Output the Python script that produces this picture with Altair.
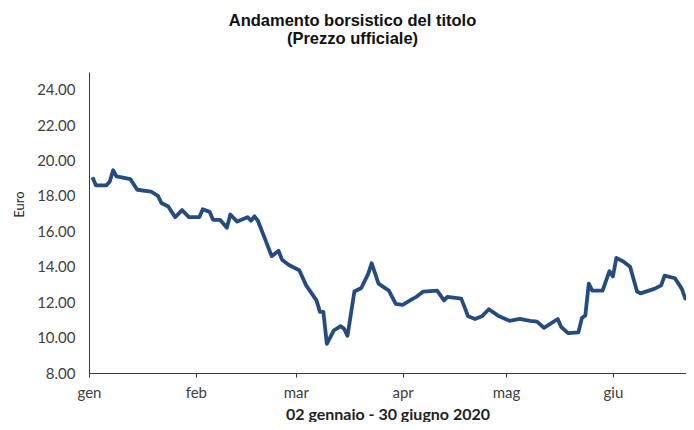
import altair as alt
import pandas as pd

# Reading of the official price (Euro), 2 Jan - late Jun 2020
dates = [
    "2020-01-02", "2020-01-03", "2020-01-06", "2020-01-07", "2020-01-08", "2020-01-09",
    "2020-01-13", "2020-01-15", "2020-01-19", "2020-01-21", "2020-01-22", "2020-01-24",
    "2020-01-26", "2020-01-28", "2020-01-30",
    "2020-02-02", "2020-02-03", "2020-02-05", "2020-02-06", "2020-02-08", "2020-02-10",
    "2020-02-11", "2020-02-13", "2020-02-16", "2020-02-17", "2020-02-18", "2020-02-19",
    "2020-02-21", "2020-02-23", "2020-02-25", "2020-02-26", "2020-02-28",
    "2020-03-02", "2020-03-04", "2020-03-07", "2020-03-08", "2020-03-09", "2020-03-10",
    "2020-03-12", "2020-03-14", "2020-03-15", "2020-03-16", "2020-03-18", "2020-03-20",
    "2020-03-22", "2020-03-23", "2020-03-25", "2020-03-28", "2020-03-30",
    "2020-04-01", "2020-04-04", "2020-04-05", "2020-04-07", "2020-04-11", "2020-04-13",
    "2020-04-14", "2020-04-18", "2020-04-20", "2020-04-22", "2020-04-24", "2020-04-26",
    "2020-04-29",
    "2020-05-02", "2020-05-05", "2020-05-08", "2020-05-10", "2020-05-12", "2020-05-16",
    "2020-05-17", "2020-05-19", "2020-05-22", "2020-05-23", "2020-05-24", "2020-05-25",
    "2020-05-26", "2020-05-29", "2020-05-31",
    "2020-06-01", "2020-06-02", "2020-06-04", "2020-06-06", "2020-06-08", "2020-06-09",
    "2020-06-13", "2020-06-15", "2020-06-16", "2020-06-19", "2020-06-21", "2020-06-22",
    "2020-06-24", "2020-06-26",
]
prices = [
    19.05, 18.60, 18.60, 18.80, 19.45, 19.10,
    18.95, 18.35, 18.25, 18.00, 17.60, 17.40,
    16.80, 17.20, 16.80,
    16.80, 17.25, 17.10, 16.65, 16.65, 16.20,
    16.95, 16.55, 16.80, 16.60, 16.85, 16.60,
    15.60, 14.60, 14.90, 14.40, 14.10,
    13.80, 12.95, 12.10, 11.45, 11.45, 9.65,
    10.40, 10.65, 10.50, 10.10, 12.60, 12.80,
    13.60, 14.20, 13.05, 12.65, 11.90,
    11.85, 12.20, 12.30, 12.60, 12.65, 12.10,
    12.30, 12.20, 11.20, 11.05, 11.20, 11.60,
    11.20,
    10.95, 11.05, 10.95, 10.90, 10.55, 11.05,
    10.60, 10.25, 10.30, 11.10, 11.25, 13.05,
    12.65, 12.65, 13.75,
    13.45, 14.50, 14.30, 14.00, 12.60, 12.50,
    12.75, 12.95, 13.50, 13.35, 12.75, 12.20,
    12.40, 12.40,
]
month_labels = ["gen", "feb", "mar", "apr", "mag", "giu"]
y_ticks = [8, 10, 12, 14, 16, 18, 20, 22, 24]

df = pd.DataFrame({"data": dates, "prezzo": prices})

label_expr = "[" + ",".join(f"'{m}'" for m in month_labels) + "][utcmonth(datum.value)]"

axis_color = "#3a3a3a"
text_color = "#404040"

chart = (
    alt.Chart(df)
    .mark_line(color="#244c80", strokeWidth=3.8, strokeJoin="round", clip=True)
    .encode(
        x=alt.X(
            "data:T",
            scale=alt.Scale(
                type="utc",
                domain=[
                    alt.DateTime(year=2020, month=1, date=1, utc=True),
                    alt.DateTime(year=2020, month=6, date=22, hours=5, utc=True),
                ],
            ),
            axis=alt.Axis(
                values=[alt.DateTime(year=2020, month=m, date=1, utc=True) for m in range(1, 7)],
                labelExpr=label_expr,
                labelFlush=False,
                grid=False,
                domainColor=axis_color,
                tickColor=axis_color,
                tickSize=4,
                labelFont="Lato",
                labelFontSize=15,
                labelColor=text_color,
                labelPadding=8,
                title="02 gennaio - 30 giugno 2020",
                titleFont="Lato",
                titleFontSize=16,
                titleFontWeight="bold",
                titleColor="#222222",
                titleBaseline="alphabetic",
                titleY=46,
            ),
        ),
        y=alt.Y(
            "prezzo:Q",
            scale=alt.Scale(domain=[8, 25], nice=False, zero=False),
            axis=alt.Axis(
                values=y_ticks,
                format=".2f",
                grid=False,
                ticks=False,
                domainColor=axis_color,
                labelFont="Lato",
                labelFontSize=15,
                labelColor=text_color,
                labelPadding=14,
                title="Euro",
                titleFont="Lato",
                titleFontSize=13,
                titleFontWeight="normal",
                titleColor="#222222",
                titleX=-63,
                titleY=132,
            ),
        ),
    )
    .properties(
        width=597,
        height=301,
        autosize=alt.AutoSizeParams(type="none"),
        padding={"left": 81, "top": 64, "right": 0, "bottom": 49},
        title=alt.TitleParams(
            text=["Andamento borsistico del titolo", "(Prezzo ufficiale)"],
            font="Liberation Sans",
            fontSize=16.5,
            fontWeight="bold",
            color="#111111",
            anchor="middle",
            dx=-35,
            offset=9,
            lineHeight=18,
            baseline="bottom",
        ),
    )
    .configure_view(stroke=None)
)

chart.save("out.html", embed_options={"renderer": "svg", "actions": False})
